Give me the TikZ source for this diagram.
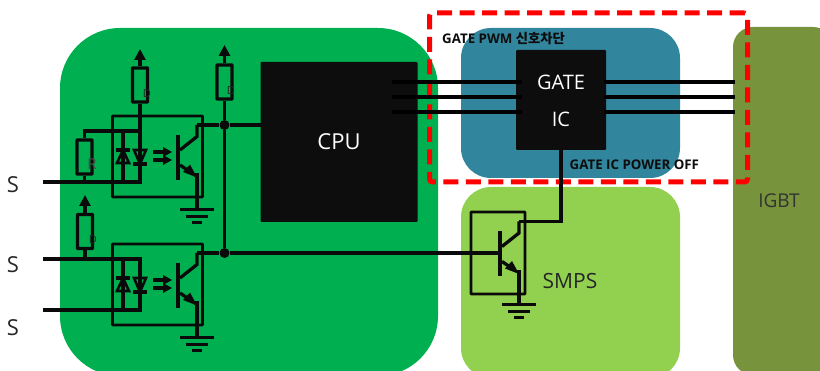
\documentclass[tikz,border=0pt]{standalone}
\usepackage{fontspec}
\setmainfont{Open Sans}
\newfontfamily\krfont{Noto Sans CJK KR}
\usetikzlibrary{arrows.meta,calc}
\definecolor{mcugreen}{HTML}{00B050}
\definecolor{gateblue}{HTML}{31859C}
\definecolor{smpsgreen}{HTML}{92D050}
\definecolor{igbtolive}{HTML}{77933C}
\definecolor{chipblack}{HTML}{0D0D0D}
\definecolor{wireblack}{HTML}{0A0A0A}

\begin{document}
\begin{tikzpicture}[
x=1pt,y=-1pt,
block/.style={rectangle,inner sep=0pt,outer sep=0pt},
chip/.style={rectangle,fill=chipblack,inner sep=0pt,outer sep=0pt,rounded corners=1pt,text=white},
wire/.style={line width=3.3pt,draw=wireblack},
bus/.style={line width=3.6pt,draw=black},
res/.style={draw=wireblack,line width=3.2pt,rectangle,rounded corners=0.5pt,minimum width=15pt,minimum height=34pt,inner sep=0pt},
optobox/.style={draw=wireblack,line width=2.8pt,rectangle,rounded corners=0.5pt,minimum width=90pt,minimum height=81pt,inner sep=0pt},
supply/.style={wire,-{Triangle[length=11pt,width=11pt]}},
junction/.style={circle,fill=wireblack,minimum size=10pt,inner sep=0pt},
sig/.style={font=\fontsize{22}{24}\selectfont,text=black!85},
tinylabel/.style={font=\fontsize{11}{11}\selectfont,text=black!85},
boldlabel/.style={font=\fontsize{13.3}{14}\selectfont\bfseries,text=black!95},
npn/.pic={
  \draw[line width=3.6pt,draw=wireblack] (0,-22.5) -- (0,22.5);
  \draw[wire] (2,-7.5) -- (19,-21) -- (19,-32.5) coordinate (-coll);
  \draw[wire] (19,32) -- (19,17.5) coordinate (-emit) -- (16,17.5);
  \fill[wireblack] (19,20) -- (5,14.5) -- (12,7) -- cycle;
  \draw[wire] (2,7.5) -- (10,13);
  \coordinate (-base) at (0,0);
},
earth/.pic={
  \draw[line width=3pt,draw=wireblack] (-17,0) -- (17,0);
  \draw[line width=3pt,draw=wireblack] (-11,7) -- (11,7);
  \draw[line width=3pt,draw=wireblack] (-5,13) -- (5,13);
  \coordinate (-top) at (0,0);
},
ledpair/.pic={
  \draw[line width=3.2pt,draw=wireblack] (-7,0) -- (7,0);
  \draw[line width=2.6pt,draw=wireblack] (0,0) -- (-6,13) -- (6,13) -- cycle;
  \draw[line width=3.2pt,draw=wireblack] (10,14) -- (24,14);
  \draw[line width=2.6pt,draw=wireblack] (17,14) -- (11,0) -- (23,0) -- cycle;
  \draw[line width=3.2pt,draw=wireblack] (30,2) -- (42,2);
  \draw[line width=3.2pt,draw=wireblack] (30,10) -- (42,10);
  \fill[wireblack] (49,2) -- (40,-3) -- (40,7) -- cycle;
  \fill[wireblack] (49,10) -- (40,5) -- (40,15) -- cycle;
}]

\useasboundingbox (0,0) rectangle (820,371);
\clip (0,0) rectangle (820,371);

% colored areas
\node[block,fill=mcugreen,rounded corners=60pt,minimum width=378pt,minimum height=348pt] (mcu) at (249,202) {};
\node[block,fill=gateblue,rounded corners=30pt,minimum width=219pt,minimum height=150pt] (gatearea) at (570.5,103) {};
\node[block,fill=smpsgreen,rounded corners=30pt,minimum width=219pt,minimum height=191pt] (smpsarea) at (570.5,282.5) {};
\node[block,fill=igbtolive,rounded corners=20pt,minimum width=100pt,minimum height=348pt] (igbtarea) at (783,201) {};

% chips
\node[chip,minimum width=157pt,minimum height=160pt,font=\fontsize{22}{24}\selectfont] (cpu) at (339,142) {CPU};
\node[chip,minimum width=90pt,minimum height=100pt] (gate) at (561,100) {};
\node[text=white,font=\fontsize{20}{22}\selectfont] (gatetxt) at (561,82) {GATE};
\node[text=white,font=\fontsize{20}{22}\selectfont] (ictxt) at (561,119) {IC};

% blocked region
\node[rectangle,draw=red,line width=5pt,dash pattern=on 15pt off 7.5pt,rounded corners=3pt,minimum width=318pt,minimum height=169pt,inner sep=0pt] (cutbox) at (588.5,97.5) {};

% gate bus
\foreach \i/\y in {a/82,b/97,c/112}{
  \coordinate (busl\i) at (392,\y);
  \coordinate (busr\i) at (735,\y);
  \draw[bus] (busl\i) -- ($(gate.west |- busl\i)+(6,0)$);
  \draw[bus] ($(gate.east |- busr\i)+(-2,0)$) -- (busr\i);
}

% optocouplers
\node[optobox] (boxa) at (157.5,156.5) {};
\node[optobox] (boxb) at (157.5,284.5) {};
\pic (qa) at (178,157.5) {npn};
\pic (qb) at (178,285.5) {npn};
\pic (ga) at (197,210) {earth};
\pic (gb) at (197,338) {earth};
\pic at (123,150) {ledpair};
\pic at (123,278) {ledpair};
\draw[wire] (qa-emit) -- (ga-top);
\draw[wire] (qb-emit) -- (gb-top);

% resistors
\node[res] (ra) at (140,85) {};
\node[res] (rb) at (224.5,82) {};
\node[res] (rc) at (85,231.5) {};
\node[res] (rd) at (84.5,157) {};
\coordinate (vcca) at (140,49);
\coordinate (vccb) at (224.5,45);
\coordinate (vccc) at (85,195);
\draw[supply] (ra.north) -- (vcca);
\draw[supply] (rb.north) -- (vccb);
\draw[supply] (rc.north) -- (vccc);
\node[tinylabel] (da) at (147,94) {D};
\node[tinylabel] (db) at (231,91) {D};
\node[tinylabel] (dc) at (93,240) {D};
\node[text=black!70,font=\fontsize{15}{15}\selectfont] (rtxt) at (92,164) {R};

% input wiring
\coordinate (sa) at (43,182);
\coordinate (sb) at (43,259);
\coordinate (sc) at (43,310);
\draw[wire] (ra.south) -- (140,182) -- (sa);
\draw[wire] (rd.north) -- (84.5,131) -- (140,131);
\draw[wire] (rd.south) -- (84.5,182);
\draw[wire] (123,131) -- (123,182);
\draw[wire] (rc.south) -- (85,259);
\draw[wire] (sb) -- (140,259) -- (140,310) -- (sc);
\draw[wire] (123,259) -- (123,310);

% outputs
\node[junction] (dota) at (224.5,125) {};
\node[junction] (dotb) at (224.5,253) {};
\draw[wire] (rb.south) -- (dota) -- (dotb);
\draw[wire] (qa-coll) -- (dota) -- (dota -| cpu.west);
\pic (qs) at (500,254) {npn};
\draw[wire] (qb-coll) -- (dotb) -- (dotb -| qs-base);

% smps switch
\node[optobox,minimum width=54pt,minimum height=82pt] (boxs) at (498,253) {};
\pic (gs) at (519,305) {earth};
\draw[wire] (qs-emit) -- (gs-top);
\draw[wire] (qs-coll) -- (qs-coll -| gate.south) -- (gate.south);

% text
\node[sig] (s1) at (13,185) {S};
\node[sig] (s2) at (13,265) {S};
\node[sig] (s3) at (13,328) {S};
\node[sig,font=\fontsize{21}{24}\selectfont] (smps) at (570,281) {SMPS};
\node[sig,font=\fontsize{19}{24}\selectfont,text=black!80] (igbt) at (779,201) {IGBT};
\node[boldlabel,anchor=west,inner sep=0pt] (pwm) at (442,39) {GATE PWM {\krfont 신호차단}};
\node[boldlabel,anchor=west,inner sep=0pt] (off) at (569.5,165) {GATE IC POWER OFF};
\end{tikzpicture}
\end{document}
